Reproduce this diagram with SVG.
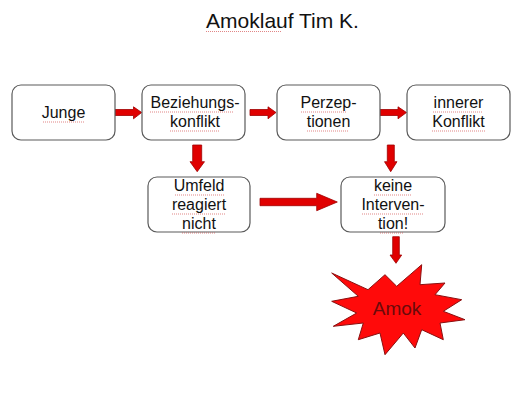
<svg xmlns="http://www.w3.org/2000/svg" width="528" height="400" viewBox="0 0 528 400">
<style>
.box{fill:#fff;stroke:#5a5a5a;stroke-width:1.2}
.t{font-family:"Liberation Sans",Arial,sans-serif;font-size:16px;fill:#111;text-anchor:middle}
.arr{fill:#e00000;stroke:#a00000;stroke-width:0.8}
.sq{fill:none;stroke:#d04040;stroke-width:0.8;stroke-dasharray:1 1;opacity:0.8}
</style>
<rect width="528" height="400" fill="#fff"/>
<g id="title">
<text x="282.5" y="28" style="font-family:'Liberation Sans',Arial,sans-serif;font-size:21px;fill:#111;text-anchor:middle">Amoklauf Tim K.</text>
<path class="sq" d="M206 31.5h76"/>
</g>
<g id="connectors">
<polygon class="arr" points="115,109.5 133.5,109.5 133.5,106.8 141.7,112.5 133.5,118.8 133.5,115.5 115,115.5"/>
<polygon class="arr" points="250,109.5 268,109.5 268,106.8 276,112.5 268,118.8 268,115.5 250,115.5"/>
<polygon class="arr" points="380,109.5 398,109.5 398,106.8 406.5,112.5 398,118.8 398,115.5 380,115.5"/>
<polygon class="arr" points="192.7,145 201.7,145 201.7,161.7 204.5,161.7 197.2,171.7 190,161.7 192.7,161.7"/>
<polygon class="arr" points="387.3,145 394.3,145 394.3,161.7 397,161.7 390.7,171.7 384.5,161.7 387.3,161.7"/>
<polygon class="arr" points="260,198.3 316.7,198.3 316.7,193.3 337.3,202 316.7,210.7 316.7,205.7 260,205.7"/>
<polygon class="arr" points="392.7,236.7 399.3,236.7 399.3,255 401.7,255 396,263.3 390,255 392.7,255"/>
</g>
<g id="junge">
<rect class="box" x="12" y="85" width="103" height="55" rx="9"/>
<text class="t" x="63.5" y="118">Junge</text>
<path class="sq" d="M43 122h41"/>
</g>
<g id="beziehungskonflikt">
<rect class="box" x="142" y="85" width="103" height="55" rx="9"/>
<text class="t" x="195" y="108">Beziehungs-</text>
<text class="t" x="195" y="127">konflikt</text>
<path class="sq" d="M150 112h84M170 131h50"/>
</g>
<g id="perzeptionen">
<rect class="box" x="277" y="85" width="103" height="55" rx="9"/>
<text class="t" x="328.5" y="108">Perzep-</text>
<text class="t" x="328.5" y="127">tionen</text>
<path class="sq" d="M301 112h46M307 131h42"/>
</g>
<g id="innerer-konflikt">
<rect class="box" x="407" y="85" width="103" height="55" rx="9"/>
<text class="t" x="458.5" y="108">innerer</text>
<text class="t" x="458.5" y="127">Konflikt</text>
<path class="sq" d="M433 112h50M432 131h54"/>
</g>
<g id="umfeld">
<rect class="box" x="148" y="177" width="102" height="55" rx="9"/>
<text class="t" x="199" y="191">Umfeld</text>
<text class="t" x="199" y="210">reagiert</text>
<text class="t" x="199" y="229">nicht</text>
<path class="sq" d="M175 195h49M172 214h54M182 233h34"/>
</g>
<g id="keine-intervention">
<rect class="box" x="341" y="177" width="104" height="55" rx="9"/>
<text class="t" x="393" y="191">keine</text>
<text class="t" x="393" y="210">Interven-</text>
<text class="t" x="393" y="229">tion!</text>
<path class="sq" d="M374 195h38M362 214h62M380 233h24"/>
</g>
<g id="amok">
<polygon points="331.7,273 368,289.7 385,274.7 396.7,286.3 421.7,264.7 420,284.7 445,283 435,294.7 461.7,299.7 443.3,311.3 465,319.7 440,323 443.3,339.7 421.7,329.7 415,348 403.3,333 385,354.7 380,333 358.3,339.7 363.3,323 333.3,326.3 356.7,313 331.7,301.3 358.3,296.3" fill="#ff0a0a" stroke="#8a1010" stroke-width="1"/>
<text x="397" y="315" style="font-family:'Liberation Sans',Arial,sans-serif;font-size:19px;fill:#6a0a0a;text-anchor:middle">Amok</text>
</g>
</svg>
